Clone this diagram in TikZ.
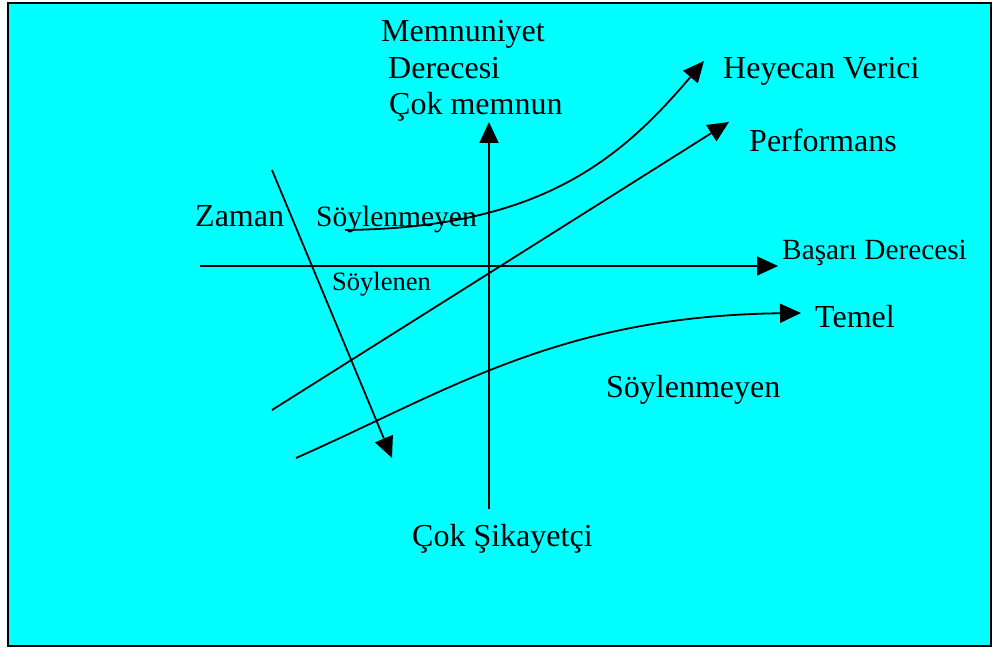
\documentclass[tikz,border=0pt]{standalone}
\usepackage{fontspec}
\setmainfont{Liberation Serif}
\usetikzlibrary{arrows.meta}
\begin{document}
\begin{tikzpicture}[x=1pt,y=-1pt,
  lbl/.style={inner sep=0pt,anchor=base west,font=\fontsize{32}{36}\selectfont},
  lblm/.style={lbl,font=\fontsize{29.3}{33}\selectfont},
  lbls/.style={lbl,font=\fontsize{26.5}{30}\selectfont},
  conn/.style={line width=1.8pt},
  arr/.style={conn,-{Triangle[length=21pt,width=19pt]}}]
\useasboundingbox (0,0) rectangle (996,650);
\draw[fill={rgb,255:red,0;green,255;blue,255},line width=2pt] (7.5,3) rectangle (990.5,645.5);
% labels
\node[lbl] (memn) at (381,42) {Memnuniyet};
\node[lbl] (dere) at (388,79) {Derecesi};
\node[lbl] (cokm) at (389,115) {Çok memnun};
\node[lbl] (heye) at (723,79) {Heyecan Verici};
\node[lbl] (perf) at (749,152) {Performans};
\node[lbl] (zama) at (195,226) {Zaman};
\node[lbl,font=\fontsize{29.5}{33}\selectfont] (soyu) at (316,226) {Söylenmeyen};
\node[lbls] (soyl) at (332,290) {Söylenen};
\node[lblm] (basa) at (782,259) {Başarı Derecesi};
\node[lbl] (teme) at (815,327) {Temel};
\node[lbl] (soyd) at (606,397) {Söylenmeyen};
\node[lbl] (coks) at (412,546) {Çok Şikayetçi};
% endpoints
\coordinate (vb) at (489,509);
\coordinate (vt) at (489,122);
\coordinate (hl) at (200,266);
\coordinate (hr) at (778,266);
\coordinate (zs) at (272,170);
\coordinate (ze) at (392,458);
\coordinate (ps) at (272,410);
\coordinate (pe) at (729,122);
\coordinate (hs) at (345,230);
\coordinate (he) at (704,61);
\coordinate (ts) at (296,458);
\coordinate (te) at (801,313);
% connectors
\draw[arr] (vb) -- (vt);
\draw[arr] (hl) -- (hr);
\draw[arr] (zs) -- (ze);
\draw[arr] (ps) -- (pe);
\draw[arr] (hs) .. controls (540,228) and (620,160) .. (he);
\draw[arr] (ts) .. controls (450,390) and (560,316) .. (te);
\end{tikzpicture}
\end{document}
